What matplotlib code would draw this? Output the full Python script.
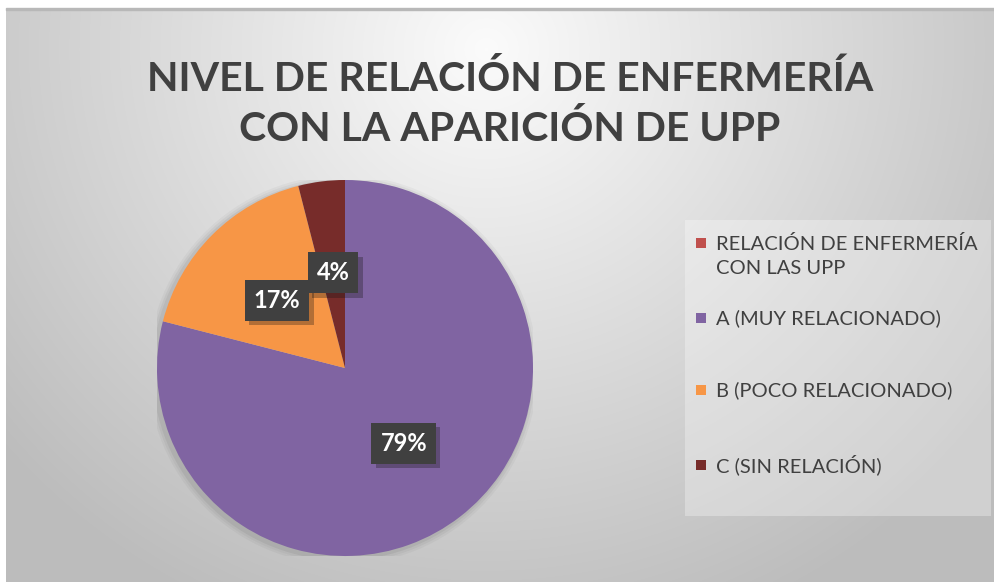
import numpy as np
import matplotlib
matplotlib.use("Agg")
import matplotlib.pyplot as plt
from matplotlib.patches import Rectangle
import matplotlib.patheffects as pe

# data
categories = ["RELACIÓN DE ENFERMERÍA\nCON LAS UPP", "A (MUY RELACIONADO)",
              "B (POCO RELACIONADO)", "C (SIN RELACIÓN)"]
values = [0, 79, 17, 4]
colors = ["#C0504D", "#8064A2", "#F79646", "#772C2A"]
title = "NIVEL DE RELACIÓN DE ENFERMERÍA\nCON LA APARICIÓN DE UPP"

W, H = 995, 582
plt.rcParams['font.family'] = ['Lato', 'DejaVu Sans']
fig = plt.figure(figsize=(W / 100, H / 100), dpi=100)
fig.patch.set_facecolor("white")

# background with radial gradient
bg = fig.add_axes([6 / W, 0, 1 - 6 / W, 1 - 9 / H])
bg.set_axis_off()
yy, xx = np.mgrid[0:H - 9, 0:W - 6]
d = np.sqrt(((xx - 480) / 620.0) ** 2 + ((yy - 40) / 600.0) ** 2)
g = np.clip(0.985 - 0.24 * d, 0.74, 1.0)
bg.imshow(np.dstack([g, g, g]), aspect="auto", extent=[0, 1, 0, 1], origin="upper")
bg.add_patch(Rectangle((0, 0.9985), 1, 0.004, color="#b8b8b8", transform=bg.transAxes, clip_on=False))
bg.set_xlim(0, 1)
bg.set_ylim(0, 1)

# title
fig.text(510 / W, 1 - 104 / H, title, ha="center", va="center", fontsize=29.5,
         fontweight="bold", color="#404040", linespacing=1.4)

# pie
cx, cy, r = 345, 368, 188
ax = fig.add_axes([(cx - r) / W, (H - cy - r) / H, 2 * r / W, 2 * r / H])
ax.set_axis_off()

# soft shadow behind pie
for i, a in enumerate([0.05, 0.04, 0.03]):
    ax.add_patch(plt.Circle((-0.012, -0.01), 1.0 + 0.012 * (i + 1), color="black", alpha=a, lw=0))

wedges, texts, autotexts = ax.pie(
    values, colors=colors, startangle=90, counterclock=False, radius=1,
    autopct=lambda p: f"{p:.0f}%" if p > 0 else "", pctdistance=0.51,
    wedgeprops=dict(linewidth=0), textprops=dict(color="white", fontsize=17, fontweight="bold"))
ax.set_xlim(-1, 1)
ax.set_ylim(-1, 1)
for t in autotexts:
    if t.get_text():
        t.set_bbox(dict(boxstyle="square,pad=0.38", facecolor="#404040", edgecolor="none"))
        t.get_bbox_patch().set_path_effects(
            [pe.SimplePatchShadow(offset=(3, -3), alpha=0.3), pe.Normal()])

# legend box
lx0, ly0, lx1, ly1 = 685, 220, 991, 516
fig.patches.append(Rectangle((lx0 / W, 1 - ly1 / H), (lx1 - lx0) / W, (ly1 - ly0) / H,
                             transform=fig.transFigure, facecolor="white", alpha=0.3,
                             edgecolor="none", zorder=1))
entry_y = [256, 318, 390, 465]
for lab, col, ey in zip(categories, colors, entry_y):
    top = 243 if "\n" in lab else ey
    fig.patches.append(Rectangle((696 / W, 1 - (top + 5) / H), 10 / W, 10 / H,
                                 transform=fig.transFigure, facecolor=col, edgecolor="none", zorder=3))
    fig.text(716 / W, 1 - ey / H, lab, ha="left", va="center", fontsize=14.5,
             color="#404040", linespacing=1.45, zorder=3)

fig.savefig("out.png", dpi=100)
